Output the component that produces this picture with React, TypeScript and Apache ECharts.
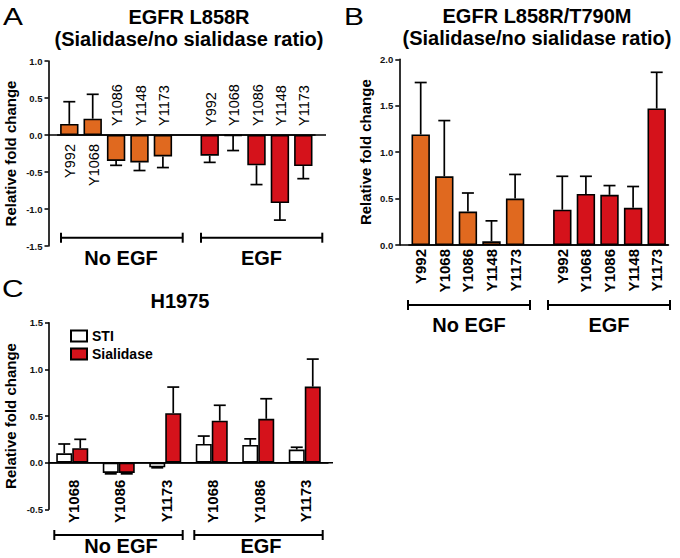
import React, { useEffect, useRef } from "react";
import * as echarts from "echarts";

// ---------- data ----------
const sites = ["Y992", "Y1068", "Y1086", "Y1148", "Y1173"];
const groups = ["No EGF", "EGF"];

// Panel A: EGFR L858R (sialidase / no sialidase ratio)
const aNoEgf = [0.15, 0.22, -0.35, -0.37, -0.29];
const aNoEgfErr = [0.3, 0.33, 0.06, 0.11, 0.15];
const aEgf = [-0.28, -0.01, -0.41, -0.92, -0.42];
const aEgfErr = [0.09, 0.2, 0.26, 0.23, 0.17];

// Panel B: EGFR L858R/T790M
const bNoEgf = [1.19, 0.74, 0.36, 0.04, 0.5];
const bNoEgfErr = [0.56, 0.6, 0.2, 0.22, 0.26];
const bEgf = [0.38, 0.55, 0.54, 0.4, 1.47];
const bEgfErr = [0.36, 0.19, 0.1, 0.23, 0.39];

// Panel C: H1975
const cSites = ["Y1068", "Y1086", "Y1173"];
const cStiNoEgf = [0.1, -0.11, -0.05];
const cStiNoEgfErr = [0.1, 0.01, 0.005];
const cStiEgf = [0.2, 0.19, 0.14];
const cStiEgfErr = [0.085, 0.065, 0.025];
const cSialNoEgf = [0.155, -0.11, 0.53];
const cSialNoEgfErr = [0.095, 0.01, 0.28];
const cSialEgf = [0.45, 0.47, 0.815];
const cSialEgfErr = [0.165, 0.215, 0.295];

const yTicksA = { min: -1.5, max: 1.0, interval: 0.5 };
const yTicksB = { min: 0, max: 2.0, interval: 0.5 };
const yTicksC = { min: -0.5, max: 1.5, interval: 0.5 };

// ---------- styles ----------
const FONT = '"Liberation Sans", Arial, Helvetica, sans-serif';
const ORANGE = "#E0691F";
const RED = "#D5121B";
const BLACK = "#000";

// layout (pixels)
const gA = { left: 57.6, top: 61, width: 257.4, height: 185 };
const gB = { left: 408.9, top: 59.3, width: 259.6, height: 185.7 };
const gC = { left: 49, top: 322.7, width: 279, height: 186.6 };
const axisXA = 48.5;
const axisXB = 399.3;
const axisXC = 49;

const zeroPix = (g: any, t: any) => g.top + (g.height * t.max) / (t.max - t.min);

// ---------- derived tables ----------
const catsAB = [
  ...sites.map((s) => `0|${s}`),
  "gap|",
  ...sites.map((s) => `1|${s}`),
];
const catsC = [...cSites.map((s) => `0|${s}`), ...cSites.map((s) => `1|${s}`)];
const catLabel = (v: string) => (v.split("|")[1] || "");

const barData = (no: number[], egf: number[]) => [
  ...no.map((v) => ({ value: v, itemStyle: { color: ORANGE } })),
  "-",
  ...egf.map((v) => ({ value: v, itemStyle: { color: RED } })),
];
const errData = (no: number[], noE: number[], egf: number[], egfE: number[]) => [
  ...no.map((v, i) => [i, v, noE[i]]),
  ...egf.map((v, i) => [i + sites.length + 1, v, egfE[i]]),
];
const labelDataA = [
  ...aNoEgf.map((v, i) => [i, v]),
  ...aEgf.map((v, i) => [i + sites.length + 1, v]),
];
const labelTextA = [...sites, ...sites];
const labelDataC = catsC.map((c, i) => [i, 0]);
const labelTextC = catsC.map(catLabel);

const errSeries = (xi: number, data: any[], dx: number) => ({
  type: "custom",
  xAxisIndex: xi,
  yAxisIndex: xi,
  silent: true,
  z: 5,
  data,
  renderItem: (params: any, api: any) => {
    const x = api.value(0);
    const v = api.value(1);
    const e = api.value(2);
    const end = v >= 0 ? v + e : v - e;
    const p0 = api.coord([x, v]);
    const p1 = api.coord([x, end]);
    const cx = p0[0] + dx;
    const st = { stroke: BLACK, lineWidth: 1.7 };
    return {
      type: "group",
      children: [
        { type: "line", shape: { x1: cx, y1: p0[1], x2: cx, y2: p1[1] }, style: st },
        { type: "line", shape: { x1: cx - 6, y1: p1[1], x2: cx + 6, y2: p1[1] }, style: st },
      ],
    };
  },
});

// rotated category labels placed from the zero line (up for negatives in A, down otherwise)
const labelSeries = (xi: number, data: any[], texts: string[], gap: number, font: string) => ({
  type: "custom",
  xAxisIndex: xi,
  yAxisIndex: xi,
  silent: true,
  z: 6,
  data,
  renderItem: (params: any, api: any) => {
    const x = api.value(0);
    const v = api.value(1);
    const p = api.coord([x, 0]);
    const up = v < 0;
    const align = up ? "left" : "right";
    return {
      type: "text",
      x: p[0] + 1,
      y: up ? p[1] - gap : p[1] + gap,
      rotation: Math.PI / 2,
      style: {
        text: texts[params.dataIndex],
        fill: BLACK,
        font,
        align,
        verticalAlign: "middle",
        textAlign: align,
        textVerticalAlign: "middle",
      },
    };
  },
});

const yAxisBase = (gi: number, t: any, offset: number, nameGap: number) => ({
  gridIndex: gi,
  type: "value",
  min: t.min,
  max: t.max,
  interval: t.interval,
  offset,
  name: "Relative fold change",
  nameLocation: "middle",
  nameGap,
  nameMoveOverlap: false,
  nameTextStyle: { fontSize: 15, fontWeight: "bold", color: BLACK, fontFamily: FONT },
  axisLine: { show: true, onZero: false, lineStyle: { color: BLACK, width: 1.6 } },
  axisTick: { show: true, length: 4, inside: false, lineStyle: { color: BLACK, width: 1.5 } },
  axisLabel: {
    margin: 6,
    fontSize: 9.5,
    fontWeight: "bold",
    color: "#111",
    fontFamily: FONT,
    formatter: (v: number) => v.toFixed(1),
  },
  splitLine: { show: false },
});

const xAxisBase = (gi: number, data: string[], label: any) => ({
  gridIndex: gi,
  type: "category",
  data,
  boundaryGap: true,
  axisLine: { show: true, onZero: true, lineStyle: { color: BLACK, width: 1.5 } },
  axisTick: { show: false },
  axisLabel: label,
  splitLine: { show: false },
});

const rotLabel = (margin: number) => ({
  show: true,
  interval: 0,
  rotate: 90,
  margin,
  fontSize: 15,
  fontWeight: "bold",
  color: BLACK,
  fontFamily: FONT,
  formatter: catLabel,
});

const txt = (x: number, y: number, text: string, size: number, weight: string, align = "center", extra: any = {}) => ({
  type: "text",
  x,
  y,
  ...extra,
  style: {
    text,
    fill: BLACK,
    font: `${weight} ${size}px ${FONT}`,
    align,
    verticalAlign: "middle",
    textAlign: align,
    textVerticalAlign: "middle",
  },
});

const ln = (x1: number, y1: number, x2: number, y2: number, w = 1.6) => ({
  type: "line",
  shape: { x1, y1, x2, y2 },
  style: { stroke: BLACK, lineWidth: w },
});

const bracket = (x1: number, x2: number, y: number) => [
  ln(x1, y, x2, y, 2),
  ln(x1, y - 5, x1, y + 5, 2),
  ln(x2, y - 5, x2, y + 5, 2),
];

export default function App() {
  const ref = useRef<HTMLDivElement>(null);

  useEffect(() => {
    if (!ref.current) return;
    const chart = echarts.init(ref.current, null, { renderer: "svg" });

    const zA = zeroPix(gA, yTicksA);
    const zB = zeroPix(gB, yTicksB);
    const zC = zeroPix(gC, yTicksC);

    const option: any = {
      animation: false,
      backgroundColor: "#fff",
      textStyle: { fontFamily: FONT },
      grid: [
        { ...gA, outerBoundsMode: "none", containLabel: false },
        { ...gB, outerBoundsMode: "none", containLabel: false },
        { ...gC, outerBoundsMode: "none", containLabel: false },
      ],
      legend: {
        data: ["STI", "Sialidase"],
        orient: "vertical",
        left: 65,
        top: 323,
        itemWidth: 16,
        itemHeight: 11,
        itemGap: 2,
        icon: "rect",
        selectedMode: false,
        textStyle: { fontSize: 14, fontWeight: "bold", color: BLACK, fontFamily: FONT, lineHeight: 16 },
      },
      xAxis: [
        xAxisBase(0, catsAB, { show: false }),
        xAxisBase(1, catsAB, rotLabel(4)),
        xAxisBase(2, catsC, { show: false }),
      ],
      yAxis: [
        yAxisBase(0, yTicksA, gA.left - axisXA, 31),
        yAxisBase(1, yTicksB, gB.left - axisXB, 26),
        yAxisBase(2, yTicksC, gC.left - axisXC, 31),
      ],
      series: [
        {
          type: "bar",
          xAxisIndex: 0,
          yAxisIndex: 0,
          data: barData(aNoEgf, aEgf),
          barWidth: 18.4,
          itemStyle: { borderColor: BLACK, borderWidth: 1.6 },
          silent: true,
          z: 3,
        },
        errSeries(0, errData(aNoEgf, aNoEgfErr, aEgf, aEgfErr), 0),
        labelSeries(0, labelDataA, labelTextA, 9, `normal 14.5px ${FONT}`),
        {
          type: "bar",
          xAxisIndex: 1,
          yAxisIndex: 1,
          data: barData(bNoEgf, bEgf),
          barWidth: 18.4,
          itemStyle: { borderColor: BLACK, borderWidth: 1.6 },
          silent: true,
          z: 3,
        },
        errSeries(1, errData(bNoEgf, bNoEgfErr, bEgf, bEgfErr), 0),
        {
          name: "STI",
          type: "bar",
          xAxisIndex: 2,
          yAxisIndex: 2,
          data: [...cStiNoEgf, ...cStiEgf],
          barWidth: 16,
          barGap: "0%",
          itemStyle: { color: "#fff", borderColor: BLACK, borderWidth: 1.6 },
          silent: true,
          z: 3,
        },
        {
          name: "Sialidase",
          type: "bar",
          xAxisIndex: 2,
          yAxisIndex: 2,
          data: [...cSialNoEgf, ...cSialEgf],
          barWidth: 16,
          barGap: "0%",
          itemStyle: { color: RED, borderColor: BLACK, borderWidth: 1.6 },
          silent: true,
          z: 3,
        },
        errSeries(
          2,
          [...cStiNoEgf, ...cStiEgf].map((v, i) => [i, v, [...cStiNoEgfErr, ...cStiEgfErr][i]]),
          -8
        ),
        errSeries(
          2,
          [...cSialNoEgf, ...cSialEgf].map((v, i) => [i, v, [...cSialNoEgfErr, ...cSialEgfErr][i]]),
          8
        ),
        labelSeries(2, labelDataC, labelTextC, 17, `bold 15px ${FONT}`),
      ],
      graphic: [
        // panel letters
        txt(3, 17, "A", 23, "normal", "left", { scaleX: 1.3 }),
        txt(344, 17, "B", 23, "normal", "left", { scaleX: 1.3 }),
        txt(2, 289, "C", 23, "normal", "left", { scaleX: 1.3 }),
        // titles
        txt(189, 17, "EGFR L858R", 20, "bold"),
        txt(189, 39, "(Sialidase/no sialidase ratio)", 20, "bold"),
        txt(537, 16, "EGFR L858R/T790M", 20, "bold"),
        txt(537, 38, "(Sialidase/no sialidase ratio)", 20, "bold"),
        txt(180, 301, "H1975", 20, "bold"),
        // full-length zero lines
        ln(axisXA, zA, 326, zA, 1.5),
        ln(axisXB, zB, 668.5, zB, 1.5),
        ln(axisXC, zC, 333, zC, 1.5),
        // group brackets
        ...bracket(61, 182.7, 237.7),
        ...bracket(201, 322.3, 237.7),
        ...bracket(408, 530, 305),
        ...bracket(548, 670, 305),
        ...bracket(54.3, 182.7, 535),
        ...bracket(194.3, 322.7, 535),
        // group labels
        txt(121, 258, groups[0], 20, "bold"),
        txt(261.5, 258, groups[1], 20, "bold"),
        txt(469, 324.5, groups[0], 20, "bold"),
        txt(609, 324.5, groups[1], 20, "bold"),
        txt(121, 546, groups[0], 20, "bold"),
        txt(261, 546, groups[1], 20, "bold"),
      ],
    };

    chart.setOption(option);
    return () => chart.dispose();
  }, []);

  return (
    <div
      ref={ref}
      style={{ position: "absolute", left: 0, top: 0, width: 680, height: 558, background: "#fff" }}
    />
  );
}
